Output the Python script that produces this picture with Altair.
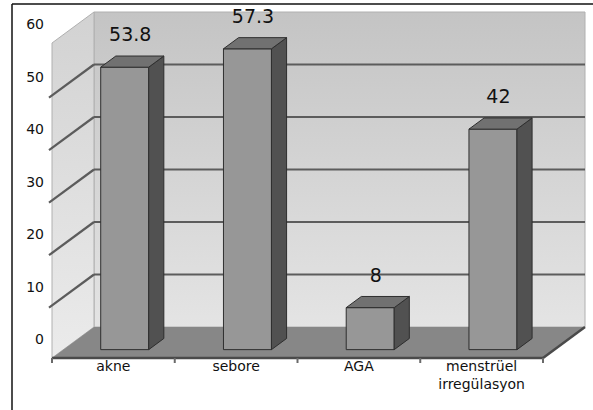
import altair as alt
import pandas as pd

# ---- data ----
categories = ["akne", "sebore", "AGA", "menstrüel\nirregülasyon"]
values = [53.8, 57.3, 8, 42]
value_labels = ["53.8", "57.3", "8", "42"]
y_ticks = [0, 10, 20, 30, 40, 50, 60]
y_max = 60

# ---- geometry (pixels) ----
W, H = 593, 410
X0_PX, Y0_PX = 52, 358          # front-left corner of the floor
CAT_PX = 122.75                  # width of one category on the front plane
VAL_PX = 5.25                    # pixels per value unit
DEPTH_PX = (42, 31)              # depth vector of the 3D box
BAR_W_PX = 48
F0, FD = 0.27, 0.36              # bar front position / bar depth, as share of box depth

XMIN, XMAX = -X0_PX / CAT_PX, (W - X0_PX) / CAT_PX
YMIN, YMAX = -(H - Y0_PX) / VAL_PX, Y0_PX / VAL_PX
DX, DY = DEPTH_PX[0] / CAT_PX, DEPTH_PX[1] / VAL_PX
BW = BAR_W_PX / CAT_PX
NC = len(categories)

xs = alt.Scale(domain=[XMIN, XMAX], nice=False, zero=False)
ys = alt.Scale(domain=[YMIN, YMAX], nice=False, zero=False)


def X(f):
    return alt.X(f"{f}:Q", scale=xs, axis=None)


def Y(f):
    return alt.Y(f"{f}:Q", scale=ys, axis=None)


EDGE = "#2e2e2e"
GRID = "#5c5c5c"

# ---- walls & floor ----
back_df = pd.DataFrame({"x": [DX], "x2": [NC + DX], "y": [DY], "y2": [y_max + DY]})
back_wall = alt.Chart(back_df).mark_rect(
    color=alt.Gradient(gradient="linear", x1=0, x2=0, y1=0, y2=1,
                       stops=[alt.GradientStop(color="#c4c4c4", offset=0),
                              alt.GradientStop(color="#e4e4e4", offset=1)]),
    stroke="#b0b0b0", strokeWidth=1,
).encode(x=X("x"), x2="x2", y=Y("y"), y2="y2")

left_df = pd.DataFrame({"x": [0, DX], "y": [0, DY], "y2": [y_max, y_max + DY]})
left_wall = alt.Chart(left_df).mark_area(
    color=alt.Gradient(gradient="linear", x1=0, x2=0, y1=0, y2=1,
                       stops=[alt.GradientStop(color="#d2d2d2", offset=0),
                              alt.GradientStop(color="#ebebeb", offset=1)]),
    stroke="#b0b0b0", strokeWidth=1,
).encode(x=X("x"), y=Y("y"), y2="y2")

floor_df = pd.DataFrame({"y": [0, DY], "x": [0, DX], "x2": [NC, NC + DX]})
floor = alt.Chart(floor_df).mark_area(orient="horizontal", color="#878787").encode(
    y=Y("y"), x=X("x"), x2="x2")

grid_vals = [t for t in y_ticks if 0 < t < y_max]
back_grid = alt.Chart(pd.DataFrame({"x": [DX] * len(grid_vals), "x2": [NC + DX] * len(grid_vals),
                                    "y": [g + DY for g in grid_vals]})).mark_rule(
    color=GRID, strokeWidth=2.2).encode(x=X("x"), x2="x2", y=Y("y"))
left_grid = alt.Chart(pd.DataFrame({"x": [-3 / CAT_PX] * len(grid_vals), "x2": [DX] * len(grid_vals),
                                    "y": [g - 3 / CAT_PX * DY / DX for g in grid_vals],
                                    "y2": [g + DY for g in grid_vals]})).mark_rule(
    color=GRID, strokeWidth=2.2).encode(x=X("x"), x2="x2", y=Y("y"), y2="y2")

front_axis = alt.Chart(pd.DataFrame({"x": [0, NC], "x2": [NC, NC + DX], "y": [0, 0], "y2": [0, DY]})).mark_rule(
    color="#4a4a4a", strokeWidth=2.5).encode(x=X("x"), x2="x2", y=Y("y"), y2="y2")
axis_ticks = alt.Chart(pd.DataFrame({"x": list(range(NC + 1)), "y": [0] * (NC + 1),
                                     "y2": [-5 / VAL_PX] * (NC + 1)})).mark_rule(
    color="#6a6a6a", strokeWidth=2).encode(x=X("x"), y=Y("y"), y2="y2")

# ---- bars ----
rows_front, rows_side, rows_top, rows_lab = [], [], [], []
b = F0 * DY
for i, (c, v, lab) in enumerate(zip(categories, values, value_labels)):
    xl = i + 0.5 - BW / 2 + F0 * DX
    xr = xl + BW
    rows_front.append({"cat": c, "x": xl, "x2": xr, "y": b, "y2": b + v})
    rows_side += [{"cat": c, "x": xr, "y": b, "y2": b + v},
                  {"cat": c, "x": xr + FD * DX, "y": b + FD * DY, "y2": b + v + FD * DY}]
    rows_top += [{"cat": c, "y": b + v, "x": xl, "x2": xr},
                 {"cat": c, "y": b + v + FD * DY, "x": xl + FD * DX, "x2": xr + FD * DX}]
    rows_lab.append({"cat": c, "label": lab, "x": (xl + xr) / 2 + 5.5 / CAT_PX, "y": b + v})

front = alt.Chart(pd.DataFrame(rows_front)).mark_rect(
    color="#979797", stroke=EDGE, strokeWidth=1).encode(x=X("x"), x2="x2", y=Y("y"), y2="y2")
side = alt.Chart(pd.DataFrame(rows_side)).mark_area(
    color="#515151", stroke=EDGE, strokeWidth=1).encode(
    x=X("x"), y=Y("y"), y2="y2", detail="cat:N")
top = alt.Chart(pd.DataFrame(rows_top)).mark_area(
    orient="horizontal", color="#717171", stroke=EDGE, strokeWidth=1).encode(
    y=Y("y"), x=X("x"), x2="x2", detail="cat:N")

value_text = alt.Chart(pd.DataFrame(rows_lab)).mark_text(
    font="DejaVu Sans", fontSize=19, color="#111111", baseline="middle", dy=-32).encode(
    x=X("x"), y=Y("y"), text="label:N")

# ---- axis labels ----
ytick_text = alt.Chart(pd.DataFrame({"v": y_ticks, "t": [str(t) for t in y_ticks]})).mark_text(
    font="DejaVu Sans", fontSize=14, color="#111111", align="right", baseline="middle", dy=-18).encode(
    x=alt.value(44), y=Y("v"), text="t:N")

cat_text = alt.Chart(pd.DataFrame({"c": categories, "x": [i + 0.5 for i in range(NC)], "y": [0] * NC})).mark_text(
    font="DejaVu Sans", fontSize=14, color="#111111", baseline="top", dy=2,
    lineBreak="\n", lineHeight=18).encode(x=X("x"), y=Y("y"), text="c:N")

# ---- outer frame ----
frame_top = alt.Chart(pd.DataFrame({"a": [0]})).mark_rule(color="#111111", strokeWidth=1.5).encode(
    x=alt.value(12), x2=alt.value(W), y=alt.value(4))
frame_left = alt.Chart(pd.DataFrame({"a": [0]})).mark_rule(color="#111111", strokeWidth=1.5).encode(
    x=alt.value(12), y=alt.value(4), y2=alt.value(H))

chart = alt.layer(
    back_wall, left_wall, floor, back_grid, left_grid, front_axis, axis_ticks,
    front, side, top, value_text, ytick_text, cat_text, frame_top, frame_left,
).properties(
    width=W, height=H, autosize="none", padding=0, background="white"
).configure_view(stroke=None)

chart.save("out.html", embed_options={"renderer": "svg", "actions": False})
